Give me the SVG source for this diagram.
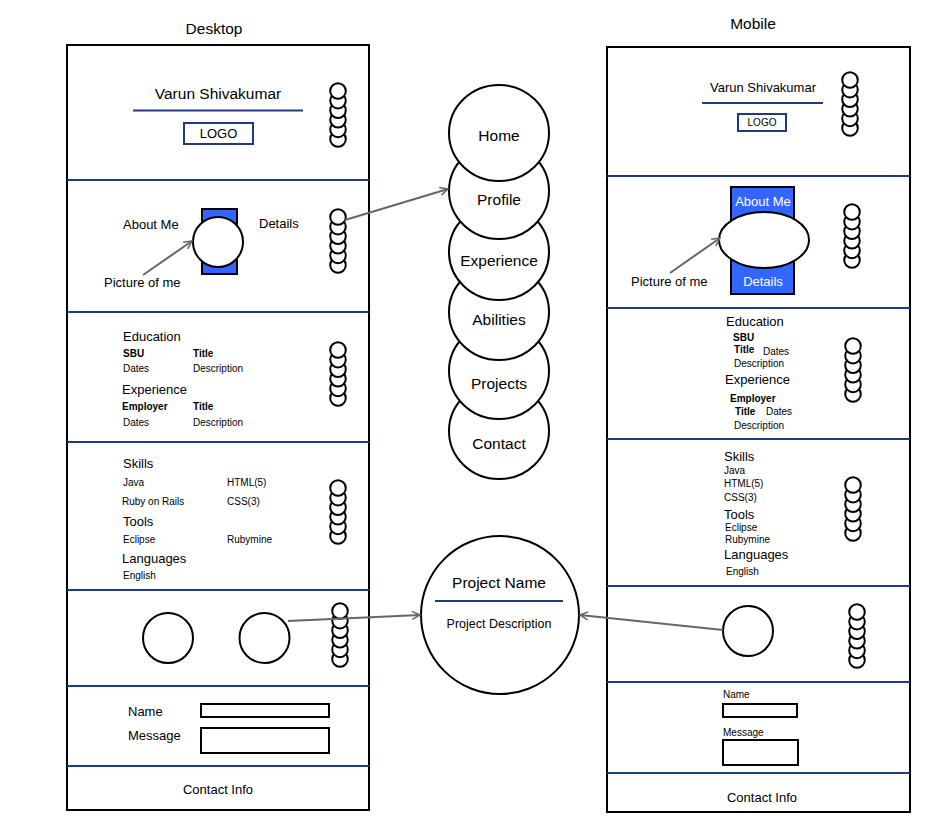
<svg xmlns="http://www.w3.org/2000/svg" xmlns:xlink="http://www.w3.org/1999/xlink" width="940" height="838" viewBox="0 0 940 838">
<style>
text{font-family:"Liberation Sans",Arial,sans-serif;fill:#000;dominant-baseline:central}
.t16{font-size:15.5px}
.t13{font-size:13px}
.t10{font-size:10px}
.b{font-weight:bold}
.c{text-anchor:middle}
.w{fill:#fff}
.frame{fill:#fff;stroke:#000;stroke-width:2}
.div{stroke:#1f3a80;stroke-width:2;fill:none}
.box{fill:#fff;stroke:#000;stroke-width:2}
.nbox{fill:#fff;stroke:#1f3a80;stroke-width:2}
.circ{fill:#fff;stroke:#000;stroke-width:2}
.blue{fill:#3366ff;stroke:#000;stroke-width:2}
.conn{fill:none;stroke:#666;stroke-width:2}
</style>
<defs>
<marker id="arr" viewBox="0 0 10 10" refX="9" refY="5" markerWidth="10" markerHeight="10" markerUnits="userSpaceOnUse" orient="auto">
<path d="M1,1 L9,5 L1,9" fill="none" stroke="#666" stroke-width="1.5"/>
</marker>
<g id="stack">
<circle class="circ" cx="0" cy="48" r="7.8"/>
<circle class="circ" cx="0" cy="38.4" r="7.8"/>
<circle class="circ" cx="0" cy="28.8" r="7.8"/>
<circle class="circ" cx="0" cy="19.2" r="7.8"/>
<circle class="circ" cx="0" cy="9.6" r="7.8"/>
<circle class="circ" cx="0" cy="0" r="7.8"/>
</g>
</defs>
<rect width="940" height="838" fill="#fff"/>

<g id="titles">
<text class="t16 c" x="214" y="28">Desktop</text>
<text class="t16 c" x="753" y="23">Mobile</text>
</g>

<g id="desktop">
<rect class="frame" x="67" y="45" width="302" height="765"/>
<line class="div" x1="67" y1="180" x2="369" y2="180"/>
<line class="div" x1="67" y1="312" x2="369" y2="312"/>
<line class="div" x1="67" y1="442" x2="369" y2="442"/>
<line class="div" x1="67" y1="590" x2="369" y2="590"/>
<line class="div" x1="67" y1="686" x2="369" y2="686"/>
<line class="div" x1="67" y1="766" x2="369" y2="766"/>
</g>

<g id="d-header">
<text class="t16 c" x="218" y="93">Varun Shivakumar</text>
<line class="div" x1="133" y1="110.5" x2="303" y2="110.5"/>
<rect class="nbox" x="184" y="123" width="69" height="21"/>
<text class="t13 c" x="218.5" y="133.5">LOGO</text>
<use xlink:href="#stack" href="#stack" transform="translate(338,91)"/>
</g>

<g id="d-about">
<rect class="blue" x="202" y="209" width="35" height="65"/>
<circle class="circ" cx="218" cy="242" r="25"/>
<text class="t13" x="123" y="224">About Me</text>
<text class="t13" x="259" y="223">Details</text>
<text class="t13" x="104" y="282">Picture of me</text>
<use xlink:href="#stack" href="#stack" transform="translate(338,217)"/>
</g>

<g id="d-education">
<text class="t13" x="123" y="336">Education</text>
<text class="t10 b" x="123" y="353">SBU</text>
<text class="t10 b" x="193" y="353">Title</text>
<text class="t10" x="123" y="368">Dates</text>
<text class="t10" x="193" y="368">Description</text>
<text class="t13" x="122" y="389">Experience</text>
<text class="t10 b" x="122" y="406">Employer</text>
<text class="t10 b" x="193" y="406">Title</text>
<text class="t10" x="123" y="422">Dates</text>
<text class="t10" x="193" y="422">Description</text>
<use xlink:href="#stack" href="#stack" transform="translate(338,350)"/>
</g>

<g id="d-skills">
<text class="t13" x="123" y="463">Skills</text>
<text class="t10" x="123" y="482">Java</text>
<text class="t10" x="227" y="482">HTML(5)</text>
<text class="t10" x="122" y="501">Ruby on Rails</text>
<text class="t10" x="227" y="501">CSS(3)</text>
<text class="t13" x="123" y="521">Tools</text>
<text class="t10" x="123" y="539">Eclipse</text>
<text class="t10" x="227" y="539">Rubymine</text>
<text class="t13" x="122" y="558">Languages</text>
<text class="t10" x="123" y="575">English</text>
<use xlink:href="#stack" href="#stack" transform="translate(338,488)"/>
</g>

<g id="d-projects">
<circle class="circ" cx="168" cy="638" r="25"/>
<circle class="circ" cx="264.5" cy="638" r="25"/>
<use xlink:href="#stack" href="#stack" transform="translate(340,611)"/>
</g>

<g id="d-contact">
<text class="t13" x="128" y="711">Name</text>
<rect class="box" x="201" y="704" width="128" height="13"/>
<text class="t13" x="128" y="735">Message</text>
<rect class="box" x="201" y="728" width="128" height="25"/>
<text class="t13 c" x="218" y="789">Contact Info</text>
</g>

<g id="nav">
<ellipse class="circ" cx="499" cy="431" rx="50" ry="48"/>
<ellipse class="circ" cx="499" cy="371" rx="50" ry="48"/>
<ellipse class="circ" cx="499" cy="312" rx="50" ry="48"/>
<ellipse class="circ" cx="499" cy="252" rx="50" ry="48"/>
<ellipse class="circ" cx="499" cy="191" rx="50" ry="48"/>
<ellipse class="circ" cx="499" cy="133" rx="50" ry="48"/>
<text class="t16 c" x="499" y="135">Home</text>
<text class="t16 c" x="499" y="199">Profile</text>
<text class="t16 c" x="499" y="260">Experience</text>
<text class="t16 c" x="499" y="319">Abilities</text>
<text class="t16 c" x="499" y="383">Projects</text>
<text class="t16 c" x="499" y="443">Contact</text>
</g>

<g id="project">
<circle class="circ" cx="500" cy="615" r="79"/>
<text class="t16 c" x="499" y="582">Project Name</text>
<line class="div" x1="435" y1="601" x2="563" y2="601"/>
<text class="c" style="font-size:12.5px" x="499" y="624">Project Description</text>
</g>

<g id="mobile">
<rect class="frame" x="607" y="47" width="303" height="765"/>
<line class="div" x1="607" y1="176" x2="910" y2="176"/>
<line class="div" x1="607" y1="308" x2="910" y2="308"/>
<line class="div" x1="607" y1="439" x2="910" y2="439"/>
<line class="div" x1="607" y1="586" x2="910" y2="586"/>
<line class="div" x1="607" y1="682" x2="910" y2="682"/>
<line class="div" x1="607" y1="773" x2="910" y2="773"/>
</g>

<g id="m-header">
<text class="t13 c" x="763" y="87">Varun Shivakumar</text>
<line class="div" x1="702" y1="103" x2="823" y2="103"/>
<rect class="nbox" x="738" y="114" width="48" height="17"/>
<text class="t10 c" x="762" y="122.5">LOGO</text>
<use xlink:href="#stack" href="#stack" transform="translate(850,80)"/>
</g>

<g id="m-about">
<rect class="blue" x="731" y="187" width="63" height="107"/>
<text class="t13 c w" x="763" y="201">About Me</text>
<ellipse class="circ" cx="764" cy="240" rx="45" ry="28"/>
<text class="t13 c w" x="763" y="281">Details</text>
<text class="t13" x="631" y="281">Picture of me</text>
<use xlink:href="#stack" href="#stack" transform="translate(852,212)"/>
</g>

<g id="m-education">
<text class="t13" x="726" y="321">Education</text>
<text class="t10 b" x="733" y="337">SBU</text>
<text class="t10 b" x="734" y="349">Title</text>
<text class="t10" x="763" y="351">Dates</text>
<text class="t10" x="734" y="363">Description</text>
<text class="t13" x="725" y="379">Experience</text>
<text class="t10 b" x="730" y="398">Employer</text>
<text class="t10 b" x="735" y="411">Title</text>
<text class="t10" x="766" y="411">Dates</text>
<text class="t10" x="734" y="425">Description</text>
<use xlink:href="#stack" href="#stack" transform="translate(853,346)"/>
</g>

<g id="m-skills">
<text class="t13" x="724" y="456">Skills</text>
<text class="t10" x="724" y="470">Java</text>
<text class="t10" x="724" y="483">HTML(5)</text>
<text class="t10" x="724" y="497">CSS(3)</text>
<text class="t13" x="724" y="514">Tools</text>
<text class="t10" x="725" y="527">Eclipse</text>
<text class="t10" x="725" y="539">Rubymine</text>
<text class="t13" x="724" y="554">Languages</text>
<text class="t10" x="726" y="571">English</text>
<use xlink:href="#stack" href="#stack" transform="translate(853,485)"/>
</g>

<g id="m-projects">
<circle class="circ" cx="748" cy="631" r="25"/>
<use xlink:href="#stack" href="#stack" transform="translate(857,612)"/>
</g>

<g id="m-contact">
<text class="t10" x="723" y="694">Name</text>
<rect class="box" x="723" y="704" width="74" height="13"/>
<text class="t10" x="723" y="732">Message</text>
<rect class="box" x="723" y="740" width="75" height="25"/>
<text class="t13 c" x="762" y="797">Contact Info</text>
</g>

<g id="connectors">
<line class="conn" x1="143" y1="275" x2="192" y2="241" marker-end="url(#arr)"/>
<line class="conn" x1="345" y1="220" x2="448" y2="189" marker-end="url(#arr)"/>
<line class="conn" x1="670" y1="273" x2="720" y2="238" marker-end="url(#arr)"/>
<line class="conn" x1="288" y1="621" x2="420" y2="615" marker-end="url(#arr)"/>
<line class="conn" x1="723" y1="630" x2="580" y2="615" marker-end="url(#arr)"/>
</g>
</svg>
